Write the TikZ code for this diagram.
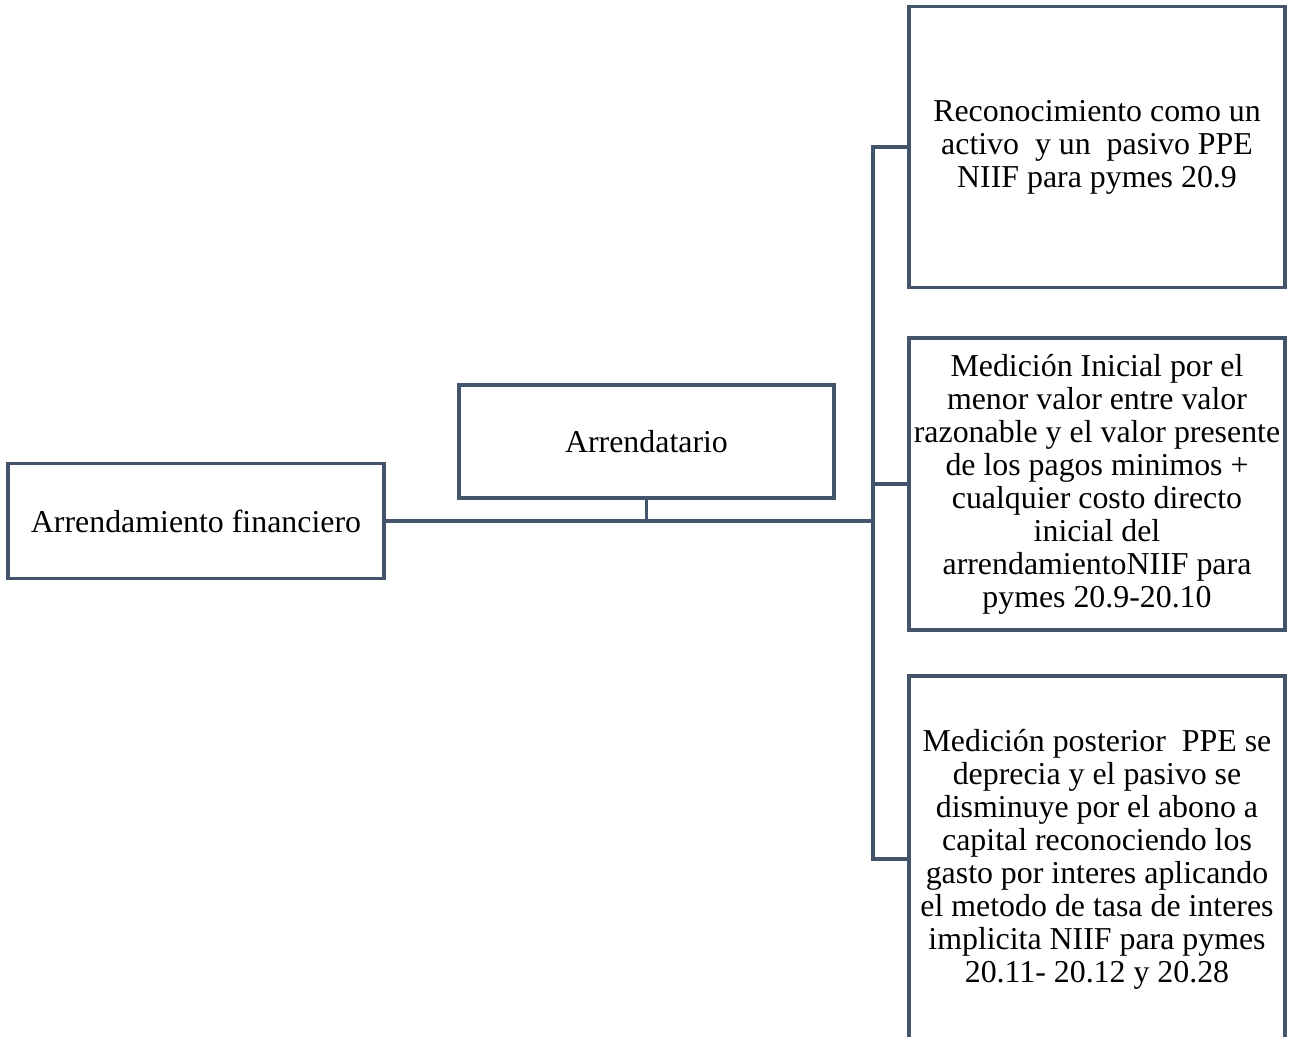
\documentclass[tikz,border=0pt]{standalone}
\usepackage{fontspec}
\setmainfont{Liberation Serif}
\definecolor{linec}{HTML}{44546A}
\begin{document}
\begin{tikzpicture}[x=0.75pt,y=-0.75pt,
  box/.style={draw=linec,line width=2.3pt,fill=white,inner sep=0pt,align=center,
    font=\fontsize{23.9pt}{24.75pt}\selectfont},
  conn/.style={draw=linec,line width=2.3pt}]
\useasboundingbox (0,0) rectangle (1289,1037);
\node[box,minimum width=282pt,minimum height=86.25pt] (A) at (196,521) {Arrendamiento financiero};
\node[box,minimum width=281.25pt,minimum height=84.75pt] (B) at (646.5,441.5) {Arrendatario};
\node[box,minimum width=282pt,minimum height=210.75pt] (R1) at (1097,147) {Reconocimiento como un\\activo \ y un \ pasivo PPE\\NIIF para pymes 20.9};
\node[box,minimum width=282pt,minimum height=219pt] (R2) at (1097,484) {Medición Inicial por el\\menor valor entre valor\\razonable y el valor presente\\de los pagos minimos +\\cualquier costo directo\\inicial del\\arrendamientoNIIF para\\pymes 20.9-20.10};
\node[box,minimum width=282pt,minimum height=274.5pt] (R3) at (1097,859) {Medición posterior \ PPE se\\deprecia y el pasivo se\\disminuye por el abono a\\capital reconociendo los\\gasto por interes aplicando\\el metodo de tasa de interes\\implicita NIIF para pymes\\20.11- 20.12 y 20.28};
\coordinate (J) at (873,521);
\draw[conn] (A.east) -- (J);
\draw[conn] (B.south) -- (B.south |- J);
\draw[conn] (R1.west) -| (J);
\draw[conn] (J) |- (R3.west);
\draw[conn] (R2.west) -- (R2.west -| J);
\end{tikzpicture}
\end{document}
